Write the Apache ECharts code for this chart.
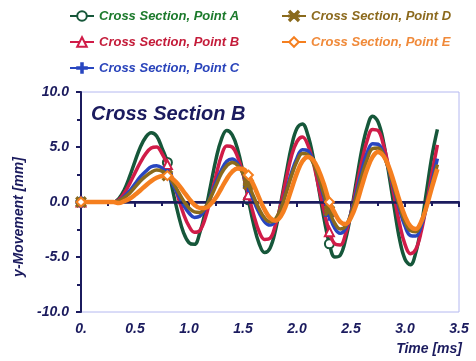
<!DOCTYPE html>
<html>
<head>
<meta charset="utf-8">
<script src="https://cdn.jsdelivr.net/npm/echarts@6/dist/echarts.min.js"></script>
<style>html,body{margin:0;padding:0;background:#fff}#c{width:476px;height:361px}</style>
</head>
<body>
<div id="c"></div>
<script>
const seriesNames = ['Cross Section, Point A','Cross Section, Point B','Cross Section, Point C','Cross Section, Point D','Cross Section, Point E'];
const xTicks = [0, 0.5, 1.0, 1.5, 2.0, 2.5, 3.0, 3.5];
const yTicks = [-10, -5, 0, 5, 10];
const markerTimes = [0, 0.8, 1.55, 2.3];

const times = [0.00,0.05,0.10,0.15,0.20,0.25,0.30,0.35,0.40,0.45,0.50,0.55,0.60,0.65,0.70,0.75,0.80,0.85,0.90,0.95,1.00,1.05,1.10,1.15,1.20,1.25,1.30,1.35,1.40,1.45,1.50,1.55,1.60,1.65,1.70,1.75,1.80,1.85,1.90,1.95,2.00,2.05,2.10,2.15,2.20,2.25,2.30,2.35,2.40,2.45,2.50,2.55,2.60,2.65,2.70,2.75,2.80,2.85,2.90,2.95,3.00,3.05,3.10,3.15,3.20,3.25,3.30];

const pointA = [0,0,0,0,0,0,0, 0.3,1.1,2.3,3.7,5.0,5.9,6.3, 6.0,4.9,3.6,1.0,-1.1,-2.8,-3.7,-3.85, -2.8,-0.9,1.5,3.9,5.7,6.5, 6.1,4.8,2.7,0.2,-2.1,-3.8,-4.6, -4.2,-2.6,-0.1,2.6,5.1,6.7,7.1, 6.1,4.05,1.3,-1.5,-3.8,-5.0, -4.85,-3.4,-1.0,1.9,4.75,6.8,7.8, 7.3,5.5,2.6,-0.5,-3.4,-5.2,-5.7, -4.6,-2.2,1.0,4.2,6.6];
const pointB = [0,0,0,0,0,0,0, 0.2,0.8,1.65,2.65,3.6,4.4,4.9, 5.0,4.4,3.4,2.0,0.4,-1.1,-2.2,-2.75, -2.6,-1.5,0.4,2.4,4.2,5.1, 5.0,4.1,2.6,0.65,-1.2,-2.7,-3.4, -3.3,-2.1,-0.2,2.1,4.2,5.5,5.9, 5.2,3.6,1.4,-0.8,-2.7,-3.8, -3.9,-2.9,-1.0,1.35,3.7,5.6,6.6, 6.5,5.2,3.1,0.5,-2.0,-3.85,-4.7, -4.3,-2.7,-0.2,2.6,5.2];
const pointC = [0,0,0,0,0,0,0, 0.1,0.5,1.0,1.65,2.3,2.8,3.2, 3.3,3.1,2.5,1.6,0.65,-0.3,-1.0,-1.4, -1.3,-0.6,0.5,1.8,2.9,3.7, 3.9,3.5,2.6,1.4,0.1,-1.0,-1.8, -2.1,-1.7,-0.6,1.0,2.7,4.0,4.75, 4.65,3.7,2.2,0.4,-1.2,-2.4, -2.85,-2.4,-1.0,0.9,2.85,4.5,5.3, 5.25,4.4,2.9,1.1,-0.7,-2.2,-3.05, -3.1,-2.2,-0.4,1.85,3.95];
const pointD = [0,0,0,0,0,0,0, 0.1,0.4,0.8,1.35,1.9,2.35,2.7, 2.9,2.8,2.4,1.8,0.95,0.1,-0.55,-0.9, -0.95,-0.5,0.4,1.5,2.6,3.3, 3.6,3.35,2.6,1.6,0.45,-0.65,-1.45, -1.8,-1.55,-0.6,0.85,2.4,3.7,4.4, 4.3,3.55,2.25,0.7,-0.8,-1.95, -2.45,-2.2,-1.1,0.55,2.35,3.9,4.85, 4.9,4.3,2.95,1.3,-0.4,-1.8,-2.6, -2.7,-1.85,-0.3,1.6,3.4];
const pointE = [0,0,0,0,0,0,0, -0.1,0.08,0.3,0.65,1.07,1.5,1.9, 2.2,2.37,2.4,2.1,1.6,0.95,0.3,-0.25, -0.55,-0.55,-0.2,0.4,1.25,2.1, 2.75,3.05,3.0,2.45,1.5,0.35,-0.7, -1.45,-1.7,-1.3,-0.25,1.2,2.65,3.7, 4.1,3.8,2.9,1.6,0.0,-1.0, -1.8,-2.0,-1.4,-0.2,1.44,3.0,4.1, 4.55,4.2,3.2,1.7,0.1,-1.3,-2.2, -2.45,-1.8,-0.4,1.35,3.0];

const seriesValues = [pointA, pointB, pointC, pointD, pointE];
const colors = ['#16573a', '#d01c48', '#2846c0', '#8a6a1c', '#f57f1f'];
const textColors = ['#1c7a2c', '#c41c3a', '#2a44bb', '#8c6a1e', '#f08a3a'];
const symbols = [
  'emptyCircle',
  'emptyTriangle',
  'path://M4.2,0H5.8V4.2H10V5.8H5.8V10H4.2V5.8H0V4.2H4.2Z',
  'path://M0,1L1,0L5,4L9,0L10,1L6,5L10,9L9,10L5,6L1,10L0,9L4,5ZM0,4.4H10V5.6H0Z',
  'emptyDiamond'
];
const widths = [3.5, 3.5, 3.5, 3.5, 4.5];
const navy = '#1b1b5e';
const font = 'Liberation Sans';
const isMarker = (t) => markerTimes.some(m => Math.abs(m - t) < 1e-6);

const chart = echarts.init(document.getElementById('c'));
const series = seriesValues.map((vals, i) => ({
  name: seriesNames[i],
  type: 'line',
  data: times.map((t, k) => [t, vals[k]]),
  smooth: 0.4,
  symbol: symbols[i],
  symbolSize: (v) => isMarker(v[0]) ? 9 : 0,
  showSymbol: true,
  lineStyle: { color: colors[i], width: widths[i] },
  itemStyle: { color: colors[i], borderColor: colors[i], borderWidth: 2 },
  z: 2 + i,
  markLine: i === 0 ? {
    silent: true, symbol: 'none', animation: false,
    label: { show: false },
    lineStyle: { color: navy, width: 2.5, type: 'solid' },
    data: [{ yAxis: 0 }]
  } : undefined
}));

const legendItem = (i) => ({ name: seriesNames[i], textStyle: { color: textColors[i] } });
const legendBase = {
  orient: 'vertical',
  itemWidth: 24,
  itemHeight: 12,
  itemGap: 12,
  textStyle: { fontFamily: font, fontSize: 13, fontWeight: 'bold', fontStyle: 'italic', lineHeight: 14 }
};
const labelFont = { fontFamily: font, fontWeight: 'bold', fontStyle: 'italic', color: navy };

chart.setOption({
  animation: false,
  color: colors,
  title: {
    text: 'Cross Section B', left: 86, top: 99,
    textStyle: Object.assign({}, labelFont, { fontSize: 20 })
  },
  legend: [
    Object.assign({}, legendBase, { left: 64, top: 4, data: [0,1,2].map(legendItem) }),
    Object.assign({}, legendBase, { left: 276, top: 4, data: [3,4].map(legendItem) })
  ],
  graphic: [{
    type: 'text', right: 14, top: 342, silent: true,
    style: { text: 'Time [ms]', fill: navy, font: 'italic bold 14px "Liberation Sans"' }
  }],
  grid: { left: 81, right: 17, top: 92, bottom: 49, show: true, borderColor: '#b4b8f0', borderWidth: 1 },
  xAxis: {
    type: 'value', min: xTicks[0], max: xTicks[xTicks.length - 1], interval: 0.5,
    axisLine: { lineStyle: { color: navy, width: 2 } },
    axisTick: { show: true, length: 5, lineStyle: { color: navy, width: 2 } },
    minorTick: { show: true, splitNumber: 2, length: 4, lineStyle: { color: navy, width: 2 } },
    splitLine: { show: false },
    axisLabel: Object.assign({}, labelFont, {
      margin: 10, fontSize: 14,
      formatter: (v) => v === xTicks[0] ? '0.' : v.toFixed(1)
    })
  },
  yAxis: {
    type: 'value', min: yTicks[0], max: yTicks[yTicks.length - 1], interval: 5,
    name: 'y-Movement [mm]', nameLocation: 'middle', nameGap: 54,
    nameTextStyle: Object.assign({}, labelFont, { fontSize: 14, padding: [0, 0, 0, -30] }),
    axisLine: { lineStyle: { color: navy, width: 2 } },
    axisTick: { show: true, length: 5, lineStyle: { color: navy, width: 2 } },
    minorTick: { show: true, splitNumber: 2, length: 4, lineStyle: { color: navy, width: 2 } },
    splitLine: { show: false },
    axisLabel: Object.assign({}, labelFont, {
      margin: 12, fontSize: 14,
      formatter: (v) => v.toFixed(1)
    })
  },
  series: series
});
</script>
</body>
</html>
